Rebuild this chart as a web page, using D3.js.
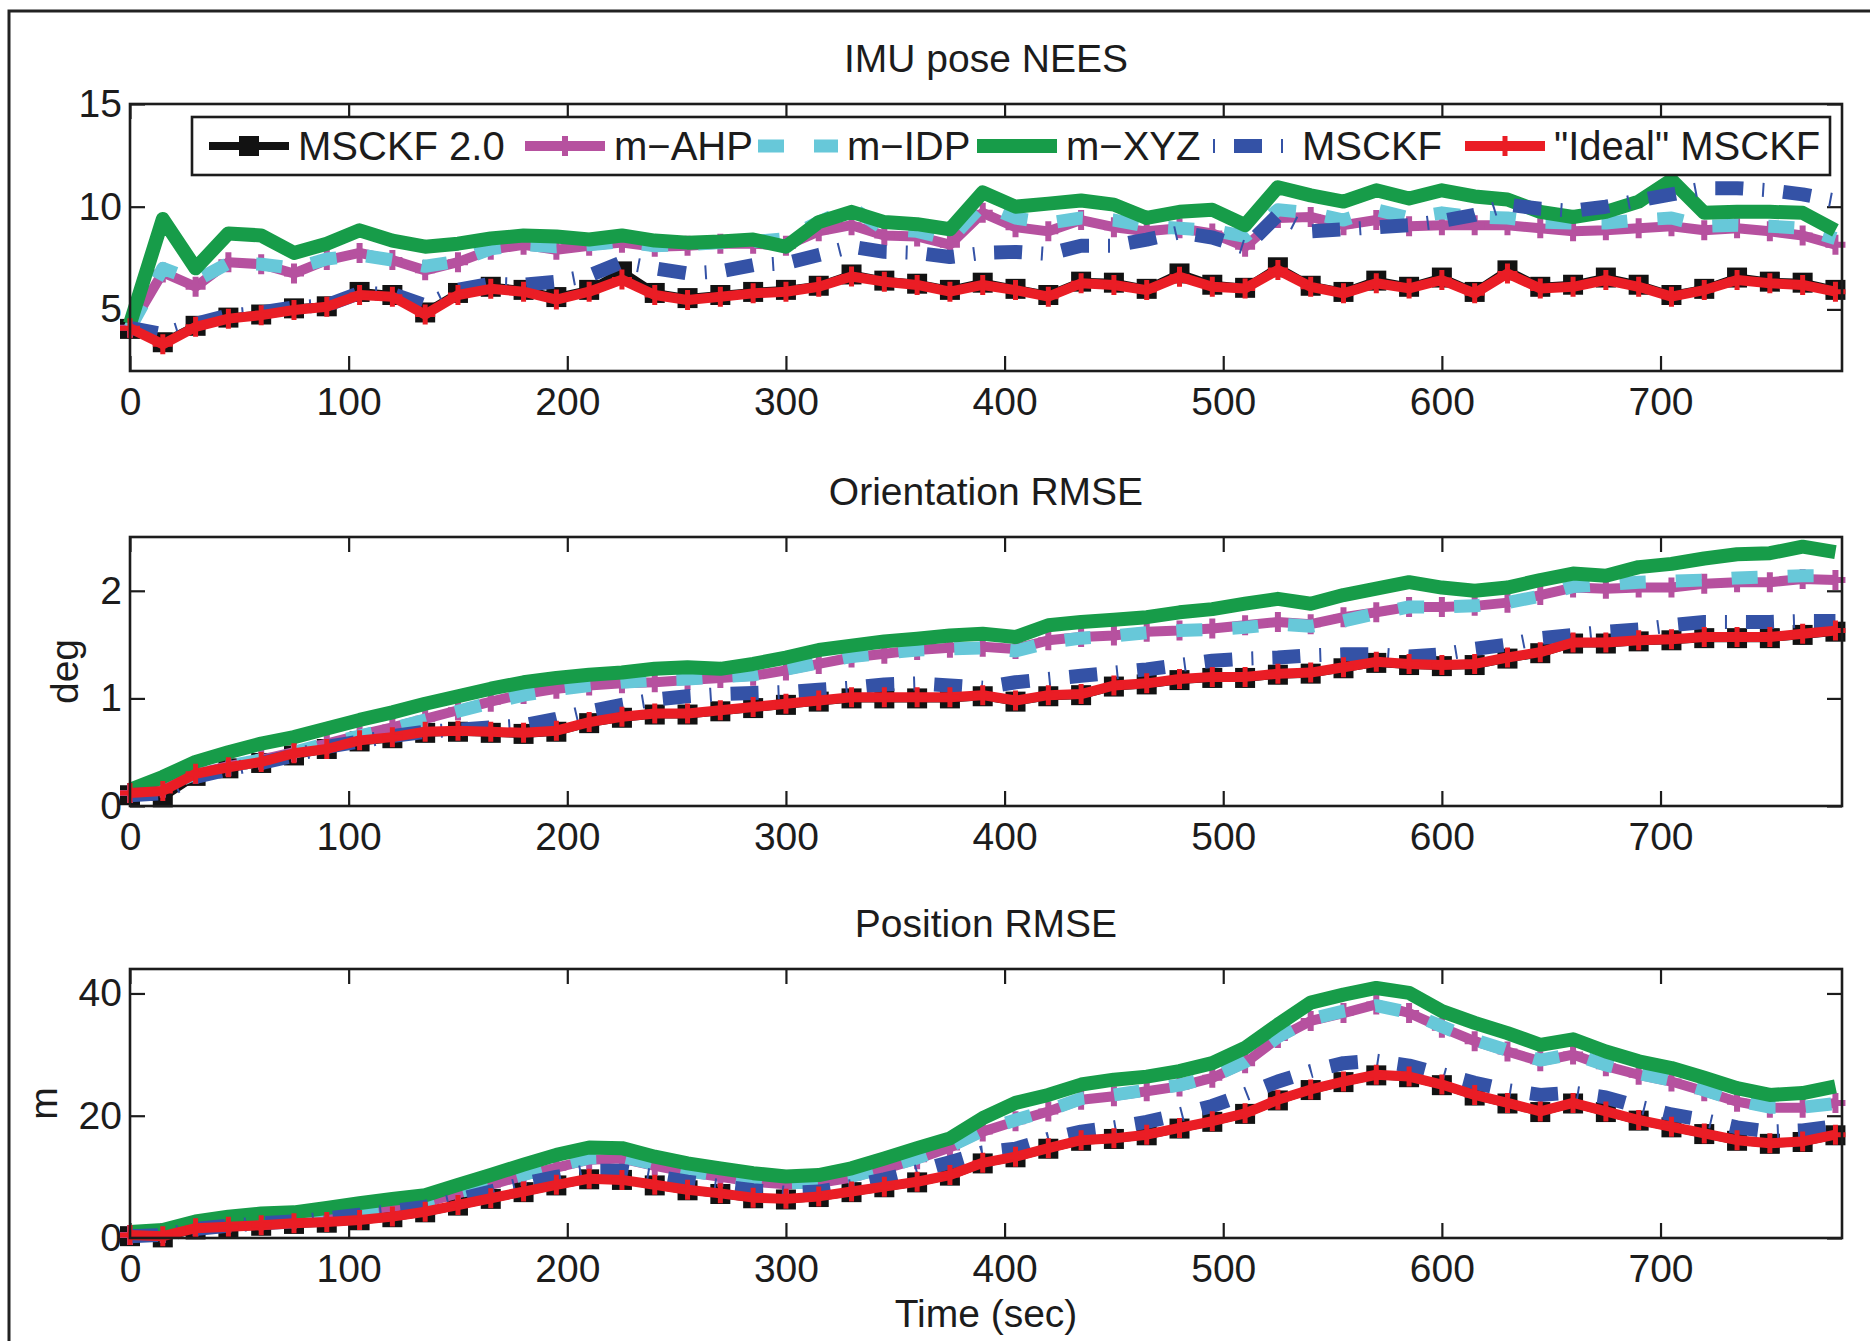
<!DOCTYPE html>
<html>
<head>
<meta charset="utf-8">
<script src="https://cdn.jsdelivr.net/npm/d3@7"></script>
<style>
  html, body { margin: 0; padding: 0; background: #ffffff; }
  svg { display: block; }
</style>
</head>
<body>
<svg id="chart" width="1870" height="1341"></svg>
<script>
// ---------- data ----------
const times = [
  0, 15, 30, 45, 60, 75, 90, 105, 120,
  135, 150, 165, 180, 195, 210, 225, 240, 255,
  270, 285, 300, 315, 330, 345, 360, 375, 390,
  405, 420, 435, 450, 465, 480, 495, 510, 525,
  540, 555, 570, 585, 600, 615, 630, 645, 660,
  675, 690, 705, 720, 735, 750, 765, 780
];
const xTicks = [0, 100, 200, 300, 400, 500, 600, 700];

const seriesNames = ["MSCKF 2.0", "m\u2212AHP", "m\u2212IDP", "m\u2212XYZ", "MSCKF", "\"Ideal\" MSCKF"];

// IMU pose NEES
const neesMsckf2 = [
  4.05, 3.4, 4.2, 4.6, 4.75, 5.05, 5.15, 5.85, 5.7,
  4.85, 5.8, 6.1, 5.95, 5.6, 5.95, 6.85, 5.8, 5.55,
  5.7, 5.85, 5.95, 6.15, 6.7, 6.4, 6.25, 5.95, 6.3,
  6.0, 5.7, 6.35, 6.3, 6.0, 6.75, 6.2, 6.05, 7.05,
  6.15, 5.85, 6.4, 6.1, 6.55, 5.85, 6.9, 6.1, 6.2,
  6.55, 6.2, 5.7, 6.0, 6.55, 6.35, 6.3, 5.95
];
const neesAhp = [
  4.1, 6.8, 6.1, 7.3, 7.2, 6.75, 7.4, 7.75, 7.4,
  6.9, 7.3, 7.9, 8.15, 7.9, 8.1, 8.25, 8.05, 8.1,
  8.2, 8.2, 8.1, 8.8, 9.1, 8.6, 8.55, 8.15, 9.7,
  9.0, 8.8, 9.35, 9.0, 8.8, 8.95, 8.7, 8.05, 9.45,
  9.5, 9.1, 9.35, 9.05, 9.1, 9.1, 9.1, 8.95, 8.8,
  8.85, 8.95, 9.05, 8.85, 8.95, 8.8, 8.6, 8.15
];
const neesIdp = [
  4.1, 7.0, 6.4, 7.25, 7.2, 7.0, 7.45, 7.65, 7.4,
  7.1, 7.35, 7.95, 8.15, 8.05, 8.15, 8.3, 8.1, 8.15,
  8.25, 8.3, 8.45, 9.25, 9.95, 8.9, 8.8, 8.4, 10.1,
  9.45, 9.2, 9.45, 9.35, 9.05, 8.95, 8.85, 8.55, 9.85,
  9.7, 9.35, 9.85, 9.45, 9.7, 9.5, 9.45, 9.25, 9.2,
  9.2, 9.35, 9.45, 9.05, 9.1, 9.05, 8.95, 8.45
];
const neesXyz = [
  4.3, 9.4, 7.0, 8.7, 8.6, 7.75, 8.2, 8.85, 8.35,
  8.05, 8.2, 8.45, 8.6, 8.55, 8.4, 8.6, 8.35, 8.25,
  8.3, 8.4, 8.05, 9.25, 9.75, 9.25, 9.15, 8.9, 10.7,
  10.0, 10.15, 10.3, 10.1, 9.45, 9.75, 9.85, 9.1, 10.95,
  10.55, 10.25, 10.8, 10.4, 10.8, 10.5, 10.35, 9.75, 9.5,
  9.75, 10.25, 11.3, 9.7, 9.75, 9.75, 9.7, 8.85
];
const neesMsckf = [
  4.1, 3.8, 4.3, 4.7, 4.85, 5.1, 5.2, 5.8, 5.75,
  5.2, 5.95, 6.25, 6.2, 6.35, 6.65, 7.3, 7.0, 6.75,
  6.85, 7.15, 7.25, 7.65, 8.05, 7.8, 7.75, 7.55, 7.75,
  7.8, 7.7, 8.1, 8.1, 8.4, 8.75, 8.5, 8.0, 9.6,
  8.8, 8.9, 9.0, 9.1, 9.3, 9.6, 10.1, 9.9, 9.8,
  10.0, 10.3, 10.6, 10.9, 10.9, 10.8, 10.6, 10.3
];
const neesIdeal = [
  4.08, 3.3, 4.15, 4.55, 4.72, 4.97, 5.13, 5.7, 5.62,
  4.75, 5.7, 6.0, 5.86, 5.48, 5.86, 6.45, 5.7, 5.46,
  5.62, 5.78, 5.86, 6.1, 6.6, 6.35, 6.19, 5.86, 6.19,
  5.94, 5.62, 6.27, 6.19, 5.94, 6.59, 6.1, 6.02, 6.92,
  6.1, 5.78, 6.27, 6.02, 6.43, 5.78, 6.75, 6.02, 6.1,
  6.43, 6.1, 5.62, 5.94, 6.43, 6.27, 6.19, 5.86
];

// Orientation RMSE (deg)
const oriMsckf2 = [
  0.1, 0.08, 0.28, 0.35, 0.4, 0.47, 0.53, 0.6, 0.63,
  0.68, 0.69, 0.68, 0.67, 0.69, 0.77, 0.82, 0.85, 0.85,
  0.88, 0.91, 0.94, 0.97, 1.0, 1.0, 1.0, 1.0, 1.02,
  0.97, 1.02, 1.03, 1.11, 1.13, 1.17, 1.19, 1.19, 1.22,
  1.23, 1.28, 1.33, 1.31, 1.3, 1.31, 1.37, 1.42, 1.51,
  1.51, 1.53, 1.54, 1.56, 1.56, 1.56, 1.59, 1.62
];
const oriAhp = [
  0.12, 0.17, 0.3, 0.37, 0.43, 0.5, 0.58, 0.66, 0.73,
  0.81, 0.89, 0.97, 1.04, 1.09, 1.12, 1.14, 1.15, 1.17,
  1.19, 1.21, 1.26, 1.32, 1.38, 1.415, 1.45, 1.47, 1.48,
  1.46, 1.54, 1.57, 1.585, 1.62, 1.63, 1.65, 1.68, 1.71,
  1.69, 1.755, 1.8, 1.85, 1.85, 1.86, 1.89, 1.96, 2.03,
  2.02, 2.03, 2.03, 2.065, 2.08, 2.08, 2.11, 2.1
];
const oriIdp = [
  0.12, 0.17, 0.3, 0.37, 0.43, 0.5, 0.58, 0.65, 0.72,
  0.8, 0.88, 0.96, 1.03, 1.08, 1.12, 1.15, 1.17, 1.18,
  1.2, 1.22, 1.27, 1.33, 1.39, 1.42, 1.45, 1.46, 1.47,
  1.44, 1.52, 1.56, 1.58, 1.61, 1.63, 1.64, 1.66, 1.69,
  1.67, 1.72, 1.79, 1.85, 1.85, 1.86, 1.89, 1.95, 2.04,
  2.06, 2.08, 2.09, 2.1, 2.12, 2.13, 2.14, 2.14
];
const oriXyz = [
  0.15, 0.27, 0.41, 0.5, 0.58, 0.64, 0.72, 0.8, 0.87,
  0.95, 1.02, 1.09, 1.15, 1.19, 1.22, 1.24, 1.275, 1.29,
  1.275, 1.32, 1.38, 1.45, 1.49, 1.53, 1.555, 1.585, 1.6,
  1.57, 1.68, 1.71, 1.73, 1.755, 1.8, 1.83, 1.88, 1.925,
  1.88, 1.96, 2.02, 2.08, 2.03, 2.0, 2.03, 2.1, 2.16,
  2.14, 2.22, 2.25, 2.3, 2.34, 2.35, 2.41, 2.36
];
const oriMsckf = [
  0.1, 0.12, 0.27, 0.34, 0.4, 0.47, 0.55, 0.6, 0.65,
  0.69, 0.71, 0.73, 0.75, 0.81, 0.88, 0.94, 0.99, 1.02,
  1.04, 1.05, 1.06, 1.08, 1.1, 1.13, 1.14, 1.12, 1.1,
  1.15, 1.18, 1.21, 1.24, 1.27, 1.31, 1.35, 1.37, 1.38,
  1.4, 1.41, 1.41, 1.39, 1.41, 1.46, 1.5, 1.56, 1.59,
  1.62, 1.64, 1.68, 1.71, 1.71, 1.71, 1.72, 1.72
];
const oriIdeal = [
  0.12, 0.14, 0.3, 0.36, 0.41, 0.49, 0.53, 0.61, 0.64,
  0.69, 0.7, 0.69, 0.68, 0.7, 0.78, 0.83, 0.86, 0.86,
  0.89, 0.92, 0.95, 0.98, 1.01, 1.01, 1.01, 1.01, 1.03,
  0.98, 1.03, 1.04, 1.12, 1.14, 1.18, 1.2, 1.2, 1.23,
  1.24, 1.29, 1.34, 1.32, 1.31, 1.32, 1.38, 1.43, 1.52,
  1.52, 1.54, 1.55, 1.57, 1.57, 1.57, 1.6, 1.63
];

// Position RMSE (m)
const posMsckf2 = [
  0.3, 0.1, 1.4, 1.7, 2.0, 2.3, 2.5, 2.9, 3.4,
  4.2, 5.3, 6.4, 7.5, 8.6, 9.6, 9.5, 8.6, 7.8,
  7.2, 6.5, 6.3, 6.7, 7.5, 8.3, 9.1, 10.2, 12.2,
  13.2, 14.6, 15.9, 16.2, 16.8, 17.9, 19.0, 20.3, 22.5,
  24.2, 25.5, 26.6, 26.3, 25.0, 23.3, 22.0, 20.6, 22.0,
  20.6, 19.2, 18.1, 17.0, 15.9, 15.4, 15.7, 16.8
];
const posAhp = [
  0.5, 0.8, 1.9, 2.5, 2.9, 3.2, 3.8, 4.4, 5.1,
  5.8, 7.3, 8.7, 10.2, 11.5, 12.8, 13.0, 11.8, 10.8,
  10.0, 9.2, 8.8, 9.0, 9.9, 11.3, 12.9, 14.8, 17.4,
  19.1, 20.7, 22.6, 23.2, 24.0, 24.8, 26.2, 28.6, 32.7,
  35.5, 36.8, 38.2, 36.8, 34.4, 32.2, 30.5, 28.9, 30.0,
  28.1, 26.7, 25.6, 24.0, 22.3, 21.3, 21.3, 22.1
];
const posIdp = [
  0.6, 0.9, 2.0, 2.6, 3.0, 3.3, 3.9, 4.5, 5.2,
  6.0, 7.5, 8.9, 10.4, 11.8, 13.1, 13.3, 12.1, 11.0,
  10.2, 9.4, 9.0, 9.2, 10.1, 11.5, 13.1, 15.0, 17.6,
  19.3, 20.9, 22.8, 23.4, 24.2, 25.0, 26.4, 28.8, 32.9,
  35.8, 37.1, 38.0, 36.9, 34.6, 32.4, 30.7, 29.1, 30.1,
  28.3, 26.9, 25.8, 24.2, 22.5, 21.4, 21.4, 22.0
];
const posXyz = [
  1.0, 1.3, 2.7, 3.5, 4.0, 4.2, 4.9, 5.7, 6.4,
  7.0, 8.7, 10.3, 12.0, 13.6, 14.8, 14.7, 13.3, 12.2,
  11.4, 10.6, 10.05, 10.3, 11.4, 13.0, 14.7, 16.3, 19.6,
  22.1, 23.4, 25.1, 25.9, 26.4, 27.3, 28.6, 31.1, 34.9,
  38.5, 39.8, 40.9, 40.1, 37.1, 35.2, 33.5, 31.6, 32.5,
  30.5, 28.9, 27.8, 26.2, 24.5, 23.4, 23.7, 24.8
];
const posMsckf = [
  0.3, 0.5, 1.5, 2.0, 2.4, 2.7, 3.2, 3.8, 4.4,
  5.1, 6.3, 7.6, 8.9, 10.0, 11.0, 11.0, 10.1, 9.2,
  8.5, 7.8, 7.4, 7.6, 8.5, 9.6, 10.9, 12.4, 14.0,
  14.6, 16.2, 17.4, 18.1, 19.0, 20.2, 21.6, 23.5, 25.6,
  27.3, 28.6, 29.0, 28.2, 26.8, 25.4, 24.2, 23.4, 23.8,
  23.0, 21.5, 20.2, 19.3, 18.1, 17.4, 17.6, 18.3
];
const posIdeal = [
  0.5, 0.3, 1.6, 1.85, 2.1, 2.4, 2.6, 2.95, 3.5,
  4.3, 5.4, 6.5, 7.6, 8.7, 9.7, 9.5, 8.7, 7.9,
  7.3, 6.6, 6.4, 6.8, 7.6, 8.4, 9.2, 10.3, 12.3,
  13.3, 14.7, 16.0, 16.3, 16.9, 18.0, 19.1, 20.4, 22.6,
  24.3, 25.6, 26.7, 26.4, 25.1, 23.4, 22.1, 20.7, 22.1,
  20.7, 19.3, 18.2, 17.1, 16.0, 15.5, 15.8, 16.9
];

const panelTitles = ["IMU pose NEES", "Orientation RMSE", "Position RMSE"];
const panelYLabels = ["", "deg", "m"];
const neesTicks = [5, 10, 15];
const oriTicks = [0, 1, 2];
const posTicks = [0, 20, 40];

// ---------- styling / layout ----------
const FONT = "'Liberation Sans', Arial, Helvetica, sans-serif";
const FS = 39;
const INK = "#1c1c1c";
const seriesStyles = [
  { color: "#121212", width: 8,  dash: null, legendDash: null, marker: "square" },
  { color: "#b6519f", width: 10, dash: null, legendDash: null, marker: "plus", markerWidth: 6 },
  { color: "#67c8d9", width: 13, dash: "26 30", legendDash: "26 30", marker: null },
  { color: "#179c49", width: 14, dash: null, legendDash: null, marker: null },
  { color: "#3452a6", width: 14, dash: "28 19 2 19", legendDash: "2 19 28 19", marker: null },
  { color: "#ea1d25", width: 10, dash: null, legendDash: null, marker: "plus", markerWidth: 5 }
];

const plotLeft = 130, plotRight = 1842;
const panels = [
  { top: 104, bottom: 371, domain: [2, 15],  ticks: neesTicks, series: [neesMsckf2, neesAhp, neesIdp, neesXyz, neesMsckf, neesIdeal], yLabelX: 0 },
  { top: 537, bottom: 806, domain: [0, 2.5], ticks: oriTicks,  series: [oriMsckf2, oriAhp, oriIdp, oriXyz, oriMsckf, oriIdeal], yLabelX: 78 },
  { top: 969, bottom: 1238, domain: [0, 44], ticks: posTicks,  series: [posMsckf2, posAhp, posIdp, posXyz, posMsckf, posIdeal], yLabelX: 57 }
];

const svg = d3.select("#chart");

// outer figure frame
svg.append("rect")
  .attr("x", 9).attr("y", 11)
  .attr("width", 1900).attr("height", 1400)
  .attr("fill", "none").attr("stroke", "#222").attr("stroke-width", 3);

const x = d3.scaleLinear().domain([0, 783]).range([plotLeft, plotRight]);

// stroked "+" marker as a d3 symbol type
const plusSymbol = {
  draw(context, size) {
    const r = Math.sqrt(size) / 2;
    context.moveTo(-r, 0); context.lineTo(r, 0);
    context.moveTo(0, -r); context.lineTo(0, r);
  }
};

function drawMarkers(g, pts, st) {
  if (st.marker === "square") {
    g.selectAll(null).data(pts).enter().append("path")
      .attr("d", d3.symbol(d3.symbolSquare, 400)())
      .attr("transform", d => `translate(${d[0]},${d[1]})`)
      .attr("fill", st.color);
  } else if (st.marker === "plus") {
    g.selectAll(null).data(pts).enter().append("path")
      .attr("d", d3.symbol(plusSymbol, 400)())
      .attr("transform", d => `translate(${d[0]},${d[1]})`)
      .attr("fill", "none").attr("stroke", st.color)
      .attr("stroke-width", st.markerWidth);
  }
}

panels.forEach((p, pi) => {
  const y = d3.scaleLinear().domain(p.domain).range([p.bottom, p.top]);
  const g = svg.append("g");
  const axisStyle = sel => {
    sel.select(".domain").remove();
    sel.selectAll(".tick line").attr("stroke", INK).attr("stroke-width", 2.2);
    sel.selectAll(".tick text").attr("fill", INK).attr("font-family", FONT).attr("font-size", FS);
  };

  // axes (ticks point inward on all four sides)
  g.append("g").attr("transform", `translate(0,${p.bottom})`)
    .call(d3.axisBottom(x).tickValues(xTicks).tickSize(-15).tickPadding(16).tickFormat(d3.format("d")))
    .call(axisStyle);
  g.append("g").attr("transform", `translate(0,${p.top})`)
    .call(d3.axisTop(x).tickValues(xTicks).tickSize(-15).tickFormat(""))
    .call(axisStyle);
  g.append("g").attr("transform", `translate(${plotLeft},0)`)
    .call(d3.axisLeft(y).tickValues(p.ticks).tickSize(-15).tickPadding(8).tickFormat(d3.format("d")))
    .call(axisStyle);
  g.append("g").attr("transform", `translate(${plotRight},0)`)
    .call(d3.axisRight(y).tickValues(p.ticks).tickSize(-15).tickFormat(""))
    .call(axisStyle);

  // series
  const line = d3.line().x(d => d[0]).y(d => d[1]);
  p.series.forEach((vals, si) => {
    const st = seriesStyles[si];
    const pts = times.map((t, i) => [x(t), y(vals[i])]);
    const sg = g.append("g");
    sg.append("path").attr("d", line(pts))
      .attr("fill", "none").attr("stroke", st.color)
      .attr("stroke-width", st.width)
      .attr("stroke-linejoin", "round")
      .attr("stroke-dasharray", st.dash);
    drawMarkers(sg, pts, st);
  });

  // plot box
  g.append("rect")
    .attr("x", plotLeft).attr("y", p.top)
    .attr("width", plotRight - plotLeft).attr("height", p.bottom - p.top)
    .attr("fill", "none").attr("stroke", INK).attr("stroke-width", 2.6);

  // title
  svg.append("text")
    .attr("x", (plotLeft + plotRight) / 2).attr("y", p.top - 32)
    .attr("text-anchor", "middle")
    .attr("font-family", FONT).attr("font-size", FS).attr("fill", INK)
    .text(panelTitles[pi]);

  // y label
  if (panelYLabels[pi]) {
    const cy = (p.top + p.bottom) / 2;
    svg.append("text")
      .attr("transform", `translate(${p.yLabelX},${cy}) rotate(-90)`)
      .attr("text-anchor", "middle")
      .attr("font-family", FONT).attr("font-size", FS).attr("fill", INK)
      .text(panelYLabels[pi]);
  }
});

// x label
svg.append("text")
  .attr("x", (plotLeft + plotRight) / 2).attr("y", 1327)
  .attr("text-anchor", "middle")
  .attr("font-family", FONT).attr("font-size", FS).attr("fill", INK)
  .text("Time (sec)");

// legend
const legendSampleX = [209, 525, 758, 977, 1213, 1465];
const legendSampleLen = 80;
const lg = svg.append("g");
lg.append("rect")
  .attr("x", 192).attr("y", 117).attr("width", 1638).attr("height", 58)
  .attr("fill", "#ffffff").attr("stroke", INK).attr("stroke-width", 2.6);
const legendCy = 146;
seriesNames.forEach((name, i) => {
  const st = seriesStyles[i];
  const x0 = legendSampleX[i];
  lg.append("line")
    .attr("x1", x0).attr("x2", x0 + legendSampleLen)
    .attr("y1", legendCy).attr("y2", legendCy)
    .attr("stroke", st.color).attr("stroke-width", st.width)
    .attr("stroke-dasharray", st.legendDash);
  drawMarkers(lg, [[x0 + legendSampleLen / 2, legendCy]], st);
  lg.append("text")
    .attr("x", x0 + legendSampleLen + 9).attr("y", legendCy + 14)
    .attr("font-family", FONT).attr("font-size", FS + 1).attr("fill", INK)
    .text(name);
});
</script>
</body>
</html>
